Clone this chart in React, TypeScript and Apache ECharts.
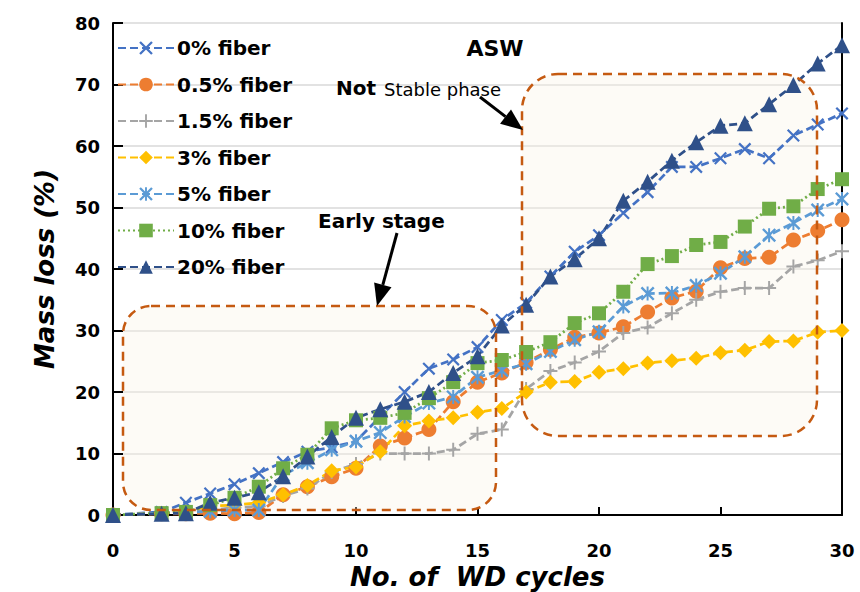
import { useEffect, useRef } from "react";
import * as echarts from "echarts";

const FONT = "DejaVu Sans";

const cycles = [0, 2, 3, 4, 5, 6, 7, 8, 9, 10, 11, 12, 13, 14, 15, 16, 17, 18, 19, 20, 21, 22, 23, 24, 25, 26, 27, 28, 29, 30];

const seriesNames = ["0% fiber", "0.5% fiber", "1.5% fiber", "3% fiber", "5% fiber", "10% fiber", "20% fiber"];

const fiber0 = [0, 0.5, 2, 3.5, 5, 6.8, 8.6, 10.3, 11, 12, 16, 20, 23.8, 25.3, 27.3, 31.7, 34.5, 38.8, 42.8, 45.5, 49.1, 52.5, 56.6, 56.6, 58, 59.5, 58, 61.7, 63.5, 65.3];
const fiber05 = [0, 0.2, 0.2, 0.3, 0.2, 0.4, 3.3, 4.6, 6.2, 7.6, 11.2, 12.5, 13.9, 18.4, 21.6, 23.1, 24.8, 26.9, 28.9, 29.6, 30.6, 33, 35.3, 36.4, 40.2, 41.7, 41.9, 44.7, 46.2, 48];
const fiber15 = [0, 0.3, 0.5, 0.8, 1.2, 1.4, 3.1, 4.3, 7, 8.3, 10, 10, 10, 10.6, 13.2, 13.9, 20.5, 23.4, 24.8, 26.6, 29.6, 30.5, 32.8, 35, 36.3, 36.9, 36.9, 40.4, 41.4, 42.9];
const fiber3 = [0, 0.3, 0.5, 1.5, 1.6, 2, 3.3, 4.8, 7.2, 7.8, 10.3, 14.5, 15.3, 15.8, 16.7, 17.3, 20, 21.6, 21.7, 23.2, 23.8, 24.7, 25.1, 25.5, 26.4, 26.8, 28.2, 28.3, 29.7, 30];
const fiber5 = [0, 0.3, 0.4, 0.6, 0.8, 0.8, 6.5, 8.5, 10.6, 12, 13.4, 16, 18.2, 19.2, 22.4, 23.5, 24.6, 26.6, 28.5, 29.8, 33.9, 36, 36.1, 37.3, 39.3, 42, 45.5, 47.5, 49.6, 51.4];
const fiber10 = [0, 0.3, 0.5, 1.6, 2.8, 4.6, 7.6, 9.8, 14.1, 15.4, 15.8, 16.6, 19, 21.6, 24.7, 25.2, 26.5, 28.1, 31.2, 32.8, 36.3, 40.8, 42.1, 43.9, 44.4, 46.9, 49.8, 50.2, 53, 54.6];
const fiber20 = [0, 0.2, 0.3, 2, 2.8, 3.7, 6.3, 9.5, 12.7, 15.8, 17.2, 18.4, 20, 23.1, 25.8, 30.8, 34.2, 38.8, 41.6, 45, 51.1, 54.2, 57.6, 60.6, 63.3, 63.7, 66.8, 69.9, 73.4, 76.4];

const seriesValues = [fiber0, fiber05, fiber15, fiber3, fiber5, fiber10, fiber20];
const colors = ["#4472C4", "#ED7D31", "#A5A5A5", "#FFC000", "#5B9BD5", "#70AD47", "#2F5089"];

const X_SYM = "path://M0,1.2L1.2,0L10,8.8L8.8,10Z M8.8,0L10,1.2L1.2,10L0,8.8Z";
const PLUS_SYM = "path://M4.3,0H5.7V4.3H10V5.7H5.7V10H4.3V5.7H0V4.3H4.3Z";
const STAR_SYM = "path://M0,1.2L1.2,0L10,8.8L8.8,10Z M8.8,0L10,1.2L1.2,10L0,8.8Z M4.3,0H5.7V10H4.3Z";

const symbols = [X_SYM, "circle", PLUS_SYM, "diamond", STAR_SYM, "rect", "triangle"];
const symbolSizes = [13, 15, 14, 15, 14, 14, 16];
const dashes: any[] = [[8, 4], [8, 4], [8, 4], [8, 4], [8, 4], [2, 3], [8, 4]];

function arrow(x1: number, y1: number, x2: number, y2: number, headLen: number, headHalf: number) {
  const dx = x2 - x1;
  const dy = y2 - y1;
  const len = Math.sqrt(dx * dx + dy * dy);
  const ux = dx / len;
  const uy = dy / len;
  const bx = x2 - ux * headLen;
  const by = y2 - uy * headLen;
  const nx = -uy;
  const ny = ux;
  return [
    { type: "line", z: 20, shape: { x1, y1, x2: bx, y2: by }, style: { stroke: "#000", lineWidth: 3 } },
    {
      type: "polygon",
      z: 20,
      shape: { points: [[x2, y2], [bx + nx * headHalf, by + ny * headHalf], [bx - nx * headHalf, by - ny * headHalf]] },
      style: { fill: "#000" },
    },
  ];
}

export default function App() {
  const ref = useRef<HTMLDivElement>(null);
  useEffect(() => {
    const chart = echarts.init(ref.current!, null, { renderer: "svg" });
    const boxStyleStroke = { fill: "none", stroke: "#C55A11", lineWidth: 2.5, lineDash: [9, 6] };
    const boxFill = { fill: "rgba(250,244,228,0.35)" };
    const box1 = { x: 123, y: 306, width: 373, height: 204, r: 28 };
    const box2 = { x: 522, y: 74, width: 295, height: 362, r: 36 };
    const option: any = {
      animation: false,
      grid: { left: 113, right: 18, top: 23, bottom: 77, outerBoundsMode: "none", containLabel: false },
      legend: {
        orient: "vertical",
        left: 112,
        top: 32,
        itemWidth: 56,
        itemHeight: 17,
        itemGap: 14.5,
        textStyle: { fontFamily: FONT, fontWeight: "bold", fontSize: 20, color: "#000", lineHeight: 22, padding: [0, 0, 0, -2] },
        data: seriesNames,
      },
      xAxis: {
        type: "value",
        min: 0,
        max: 30,
        interval: 5,
        axisLine: { lineStyle: { color: "#000", width: 2 } },
        axisTick: { inside: true, length: 8, lineStyle: { color: "#000", width: 2 } },
        axisLabel: { margin: 26, fontFamily: FONT, fontWeight: "bold", fontSize: 18, color: "#000" },
        splitLine: { show: false },
        name: "No. of  WD cycles",
        nameLocation: "middle",
        nameGap: 46,
        nameTextStyle: { fontFamily: FONT, fontWeight: "bold", fontStyle: "italic", fontSize: 26, color: "#000" },
      },
      yAxis: [
        {
          type: "value",
          min: 0,
          max: 80,
          interval: 10,
          axisLine: { show: true, lineStyle: { color: "#000", width: 2 } },
          axisTick: { show: true, inside: true, length: 10, lineStyle: { color: "#000", width: 2 } },
          axisLabel: { margin: 13, fontFamily: FONT, fontWeight: "bold", fontSize: 18, color: "#000" },
          splitLine: { show: true, lineStyle: { color: "#D9D9D9", width: 1.5 } },
          name: "Mass loss (%)",
          nameLocation: "middle",
          nameGap: 55,
          nameRotate: 90,
          nameTextStyle: { fontFamily: FONT, fontWeight: "bold", fontStyle: "italic", fontSize: 26, color: "#000" },
        },
        {
          type: "value",
          position: "right",
          min: 0,
          max: 80,
          interval: 10,
          axisLine: { show: true, lineStyle: { color: "#000", width: 2 } },
          axisTick: { show: false },
          axisLabel: { show: false },
          splitLine: { show: false },
        },
      ],
      series: seriesNames.map((name, i) => ({
        name,
        type: "line",
        data: cycles.map((c, j) => [c, seriesValues[i][j]]),
        symbol: symbols[i],
        symbolSize: symbolSizes[i],
        z: 3,
        itemStyle: { color: colors[i] },
        lineStyle: { color: colors[i], width: 2.75, type: dashes[i] },
      })),
      graphic: [
        { type: "rect", z: 1, silent: true, shape: box1, style: boxFill },
        { type: "rect", z: 1, silent: true, shape: box2, style: boxFill },
        { type: "rect", z: 15, silent: true, shape: box1, style: boxStyleStroke },
        { type: "rect", z: 15, silent: true, shape: box2, style: boxStyleStroke },
        ...arrow(480, 97, 523, 130, 22, 9),
        ...arrow(397, 233, 377, 306, 22, 9),
        {
          type: "text",
          z: 20,
          x: 495,
          y: 48,
          style: { text: "ASW", fontFamily: FONT, fontWeight: "bold", fontSize: 22, fill: "#000", align: "center", verticalAlign: "middle" },
        },
        {
          type: "text",
          z: 20,
          x: 336,
          y: 88,
          style: { text: "Not", fontFamily: FONT, fontWeight: "bold", fontSize: 20, fill: "#000", align: "left", verticalAlign: "middle" },
        },
        {
          type: "text",
          z: 20,
          x: 384,
          y: 89,
          style: { text: "Stable phase", fontFamily: FONT, fontSize: 18, fill: "#000", align: "left", verticalAlign: "middle" },
        },
        {
          type: "text",
          z: 20,
          x: 318,
          y: 221,
          style: { text: "Early stage", fontFamily: FONT, fontWeight: "bold", fontSize: 20, fill: "#000", align: "left", verticalAlign: "middle" },
        },
      ],
    };
    chart.setOption(option);
    return () => chart.dispose();
  }, []);
  return <div ref={ref} style={{ position: "absolute", left: 0, top: 0, width: 860, height: 592 }} />;
}
